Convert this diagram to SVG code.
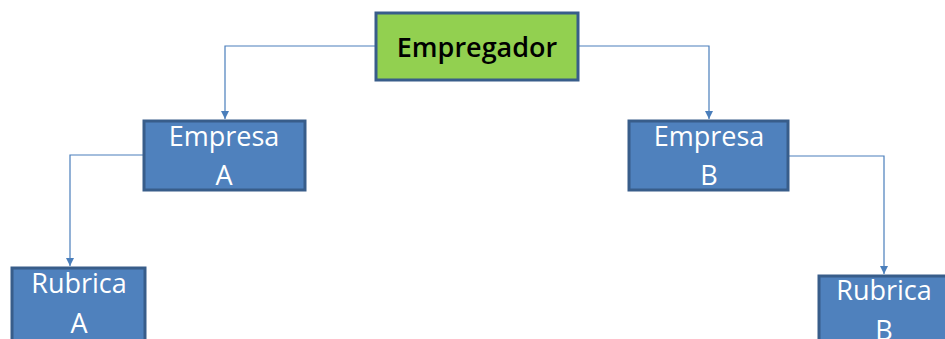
<svg xmlns="http://www.w3.org/2000/svg" width="945" height="339" viewBox="0 0 945 339">
<style>
.box{fill:#4F81BD;stroke:#385D8A;stroke-width:3}
.root{fill:#92D050;stroke:#385D8A;stroke-width:3}
.t{font-family:"Open Sans","Noto Sans","Liberation Sans",sans-serif;font-size:27px;text-anchor:middle;fill:#fff}
.tb{fill:#000;font-weight:600}
.c{fill:none;stroke:#4A7EBB;stroke-width:1.2}
</style>
<defs>
<marker id="ar" viewBox="0 0 10 10" refX="10" refY="5" markerWidth="8" markerHeight="8" markerUnits="userSpaceOnUse" orient="auto">
<path d="M0,0 L10,5 L0,10 z" fill="#4A7EBB"/>
</marker>
</defs>
<rect width="945" height="339" fill="#fff"/>
<g id="connectors">
<path class="c" d="M376,46 H225 V119" marker-end="url(#ar)"/>
<path class="c" d="M578,46 H709 V119" marker-end="url(#ar)"/>
<path class="c" d="M143,155 H70 V266" marker-end="url(#ar)"/>
<path class="c" d="M789,156 H884 V274" marker-end="url(#ar)"/>
</g>
<g id="empregador">
<rect class="root" x="376" y="13" width="202" height="67"/>
<text class="t tb" x="477" y="57" font-size="26">Empregador</text>
</g>
<g id="empresaA">
<rect class="box" x="144" y="121" width="161" height="69"/>
<text class="t" x="224" y="146">Empresa</text>
<text class="t" x="224" y="185">A</text>
</g>
<g id="empresaB">
<rect class="box" x="629" y="121" width="159" height="69"/>
<text class="t" x="709" y="146">Empresa</text>
<text class="t" x="709" y="185">B</text>
</g>
<g id="rubricaA">
<rect class="box" x="12" y="268" width="133" height="80"/>
<text class="t" x="79" y="293">Rubrica</text>
<text class="t" x="79" y="333">A</text>
</g>
<g id="rubricaB">
<rect class="box" x="819" y="276" width="133" height="80"/>
<text class="t" x="884" y="300">Rubrica</text>
<text class="t" x="884" y="340">B</text>
</g>
</svg>
